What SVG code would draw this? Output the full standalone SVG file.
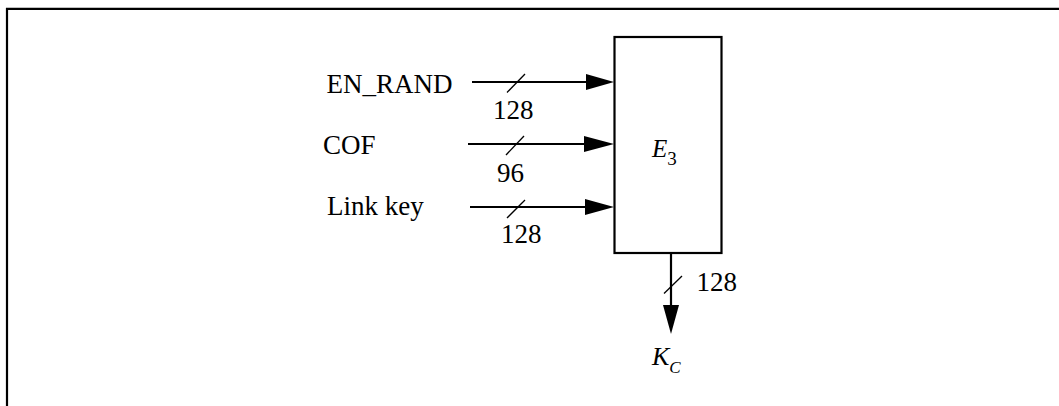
<svg xmlns="http://www.w3.org/2000/svg" width="1059" height="406" viewBox="0 0 1059 406">
<defs>
<style>
text{font-family:"Liberation Serif","Times New Roman",serif;fill:#000}
.lbl{font-size:27px}
.it{font-style:italic}
.ln{stroke:#000;stroke-width:2.2;fill:none}
.sl{stroke:#000;stroke-width:1.3;fill:none}
.ah{fill:#000;stroke:none}
</style>
</defs>
<rect width="1059" height="406" fill="#fff"/>
<path class="ln" d="M7,406 V8.8 H1059"/>
<g id="E3">
<rect x="614.5" y="37" width="107" height="216" fill="#fff" stroke="#000" stroke-width="2.2"/>
<text class="it" x="652" y="156.7" style="font-size:25px">E<tspan style="font-size:19px;font-style:normal" dy="8.3">3</tspan></text>
</g>
<g id="EN_RAND"><text class="lbl" x="326.5" y="93.3">EN_RAND</text></g>
<g id="COF"><text class="lbl" x="323" y="154">COF</text></g>
<g id="LinkKey"><text class="lbl" x="327" y="215">Link key</text></g>
<g id="KC"><text class="it" x="652" y="365" style="font-size:26px">K<tspan style="font-size:17px" dy="8.3">C</tspan></text></g>
<g id="connectors">
<line class="ln" x1="472" y1="82" x2="590" y2="82"/>
<polygon class="ah" points="586,74 614,82 586,90"/>
<line class="sl" x1="507" y1="92.5" x2="525" y2="74"/>
<text class="lbl" x="493" y="118.5">128</text>
<line class="ln" x1="468" y1="144" x2="588" y2="144"/>
<polygon class="ah" points="584,136 614,144 584,152"/>
<line class="sl" x1="506" y1="155" x2="524" y2="136"/>
<text class="lbl" x="497" y="181.7">96</text>
<line class="ln" x1="470" y1="207" x2="588" y2="207"/>
<polygon class="ah" points="585,199 614,207 585,215"/>
<line class="sl" x1="507" y1="218" x2="525" y2="200"/>
<text class="lbl" x="501" y="243.3">128</text>
<line class="ln" x1="671" y1="253" x2="671" y2="310"/>
<polygon class="ah" points="663,305 679,305 671,334"/>
<line class="sl" x1="664" y1="293.5" x2="682" y2="276"/>
<text class="lbl" x="696.5" y="290.7">128</text>
</g>
</svg>
